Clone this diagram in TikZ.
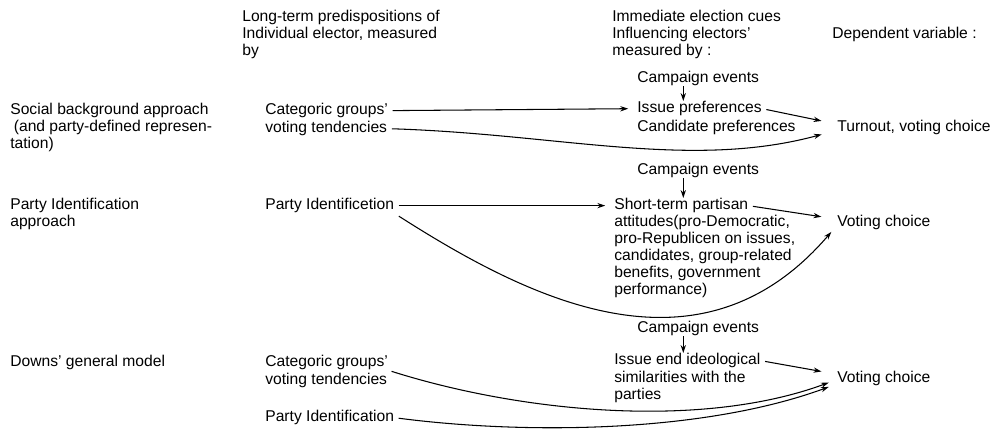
\documentclass[tikz,border=0pt]{standalone}
\usepackage{fontspec}
\setmainfont{Liberation Sans}
\usetikzlibrary{arrows.meta}

\begin{document}
\begin{tikzpicture}[x=0.02cm,y=-0.02cm,
	every node/.style={inner sep=0pt,anchor=north west,align=left,font=\fontsize{8.9}{9.6}\selectfont},
	cue/.style={-{Stealth[length=4.5pt,width=3pt]},line width=0.6pt}]
	\useasboundingbox (0,0) rectangle (1000,430);
	% column heads
	\node (longterm) at (242,10) {Long-term predispositions of\\Individual elector, measured\\by};
	\node (immediate) at (612,10) {Immediate election cues\\Influencing electors'\\measured by :};
	\node (depvar) at (832,27) {Dependent variable :};
	% approaches
	\node (social) at (10,103) {Social background approach\\\hspace{2pt}(and party-defined represen-\\tation)};
	\node (partyapp) at (10,198) {Party Identification\\approach};
	\node (downs) at (10,355) {Downs' general model};
	% long-term predispositions
	\node (catA) at (265,103) {Categoric groups'};
	\node (catB) at (265,121) {voting tendencies};
	\node (pidA) at (265,198) {Party Identificetion};
	\node (catC) at (265,355) {Categoric groups'};
	\node (catD) at (265,373) {voting tendencies};
	\node (pidB) at (265,410) {Party Identification};
	% election cues
	\node (campA) at (637,71) {Campaign events};
	\node (issue) at (637,101) {Issue preferences};
	\node (cand) at (637,120) {Candidate preferences};
	\node (campB) at (637,163) {Campaign events};
	\node (short) at (614,198) {Short-term partisan};
	\node (shortrest) at (614,215) {attitudes(pro-Democratic,\\pro-Republicen on issues,\\candidates, group-related\\benefits, government\\performance)};
	\node (campC) at (637,321) {Campaign events};
	\node (ideo) at (614,353) {Issue end ideological};
	\node (ideorest) at (614,371) {similarities with the\\parties};
	% dependent variable
	\node (turnout) at (837,120) {Turnout, voting choice};
	\node (voteA) at (837,215) {Voting choice};
	\node (voteB) at (837,371) {Voting choice};

	\path[cue,shorten <=2.5pt,shorten >=5pt]
	(catA.east) edge (issue.west)
	(pidA.east) edge (short.west);
	\path[cue,shorten <=2.5pt,shorten >=9pt]
	(issue.east) edge ([yshift=2pt]turnout.west)
	(short.east) edge ([yshift=2pt]voteA.west)
	(ideo.east) edge ([yshift=2.5pt]voteB.west);
	\path[cue]
	([xshift=-8.5pt]campA.south) edge ([xshift=-8.5pt]campA.south |- issue.north)
	([xshift=-8.5pt]campB.south) edge ([xshift=-8.5pt]campB.south |- short.north)
	([xshift=-8.5pt]campC.south) edge ([xshift=-8.5pt]campC.south |- ideo.north);

	\draw[cue,shorten <=2.5pt,shorten >=9pt] (catB.east) .. controls (560,134) and (690,170) .. ([yshift=-1.5pt]turnout.west);
	\draw[cue,shorten <=3pt,shorten >=5pt] (pidA.south east) .. controls (530,300) and (700,385) .. ([yshift=-1.5pt]voteA.west);
	\draw[cue,shorten <=2pt,shorten >=5pt] (catC.south east) .. controls (520,412) and (700,430) .. ([yshift=-0.5pt]voteB.west);
	\draw[cue,shorten <=2.5pt,shorten >=5pt] (pidB.east) .. controls (520,434) and (700,434) .. ([yshift=-3pt]voteB.west);
\end{tikzpicture}
\end{document}
